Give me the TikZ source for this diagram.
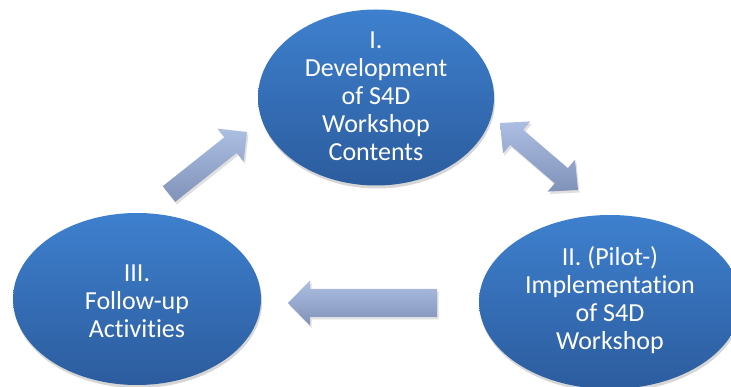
\documentclass[tikz,border=0pt]{standalone}
\usepackage{fontspec}
\setmainfont{Carlito}[Ligatures={NoCommon}]
\usetikzlibrary{shapes.geometric,calc}
\definecolor{ellTop}{RGB}{62,128,206}
\definecolor{ellBot}{RGB}{44,92,158}
\definecolor{arrTop}{RGB}{172,190,226}
\definecolor{arrBot}{RGB}{128,146,184}
\tikzset{
  blob/.style={ellipse, inner sep=0pt, top color=ellTop, bottom color=ellBot, draw=none},
  blobshadow/.style={ellipse, inner sep=0pt, fill=black, opacity=0.16, draw=none},
  lbl/.style={text=white, align=center, font=\fontsize{26}{28}\selectfont, inner sep=0pt},
  arrowfill/.style={top color=arrTop, bottom color=arrBot, draw=none},
  arrowshadow/.style={fill=black, opacity=0.12, draw=none, transform canvas={shift={(1.5pt,-2.5pt)}}},
}
% #1 style, #2 tail, #3 tip, #4 shaft half width, #5 head half width, #6 head length
\newcommand\singlearrow[6]{%
  \coordinate (AH) at ($(#3)!#6!(#2)$);
  \path[#1] ($(#2)!#4!90:(#3)$) -- ($(AH)!#4!-90:(#2)$) -- ($(AH)!#5!-90:(#2)$) -- (#3)
    -- ($(AH)!#5!90:(#2)$) -- ($(AH)!#4!90:(#2)$) -- ($(#2)!#4!-90:(#3)$) -- cycle;
}
% #1 style, #2 tip A, #3 tip B, #4 shaft half width, #5 head half width, #6 head length
\newcommand\doublearrow[6]{%
  \coordinate (DA) at ($(#2)!#6!(#3)$);
  \coordinate (DB) at ($(#3)!#6!(#2)$);
  \path[#1] (#2) -- ($(DA)!#5!90:(#3)$) -- ($(DA)!#4!90:(#3)$) -- ($(DB)!#4!-90:(#2)$)
    -- ($(DB)!#5!-90:(#2)$) -- (#3) -- ($(DB)!#5!90:(#2)$) -- ($(DB)!#4!90:(#2)$)
    -- ($(DA)!#4!-90:(#3)$) -- ($(DA)!#5!-90:(#3)$) -- cycle;
}
\begin{document}
\begin{tikzpicture}[x=1pt, y=-1pt]
  \useasboundingbox (0,0) rectangle (731,387);
  \clip (0,0) rectangle (731,387);
  % shadows of ellipses
  \node[blobshadow, minimum width=236pt, minimum height=176pt] (devs) at (377,100.5) {};
  \node[blobshadow, minimum width=248pt, minimum height=172pt] (fols) at (138,302) {};
  \node[blobshadow, minimum width=262pt, minimum height=174pt] (imps) at (611,305) {};
  % ellipses
  \node[blob, minimum width=236pt, minimum height=176pt] (dev) at (376,97.5) {};
  \node[blob, minimum width=248pt, minimum height=172pt] (fol) at (137,299) {};
  \node[blob, minimum width=262pt, minimum height=174pt] (imp) at (610,302) {};
  % labels
  \node[lbl] (devt) at (376,96) {I.\\Development\\of S4D\\Workshop\\Contents};
  \node[lbl] (folt) at (137,301) {III.\\Follow-up\\Activities};
  \node[lbl] (impt) at (610,300) {II. (Pilot-)\\Implementation\\of S4D\\Workshop};
  % arrow end points
  \coordinate (a1t) at (169,194);
  \coordinate (a1h) at (247,132);
  \coordinate (a2a) at (500,123);
  \coordinate (a2b) at (578,190);
  \coordinate (a3t) at (437,303);
  \coordinate (a3h) at (288,303);
  % arrows
  \singlearrow{arrowshadow}{a1t}{a1h}{10pt}{21pt}{21pt}
  \singlearrow{arrowfill}{a1t}{a1h}{10pt}{21pt}{21pt}
  \doublearrow{arrowshadow}{a2a}{a2b}{10pt}{21pt}{22pt}
  \doublearrow{arrowfill}{a2a}{a2b}{10pt}{21pt}{22pt}
  \singlearrow{arrowshadow}{a3t}{a3h}{14pt}{22.5pt}{22pt}
  \singlearrow{arrowfill}{a3t}{a3h}{14pt}{22.5pt}{22pt}
\end{tikzpicture}
\end{document}
